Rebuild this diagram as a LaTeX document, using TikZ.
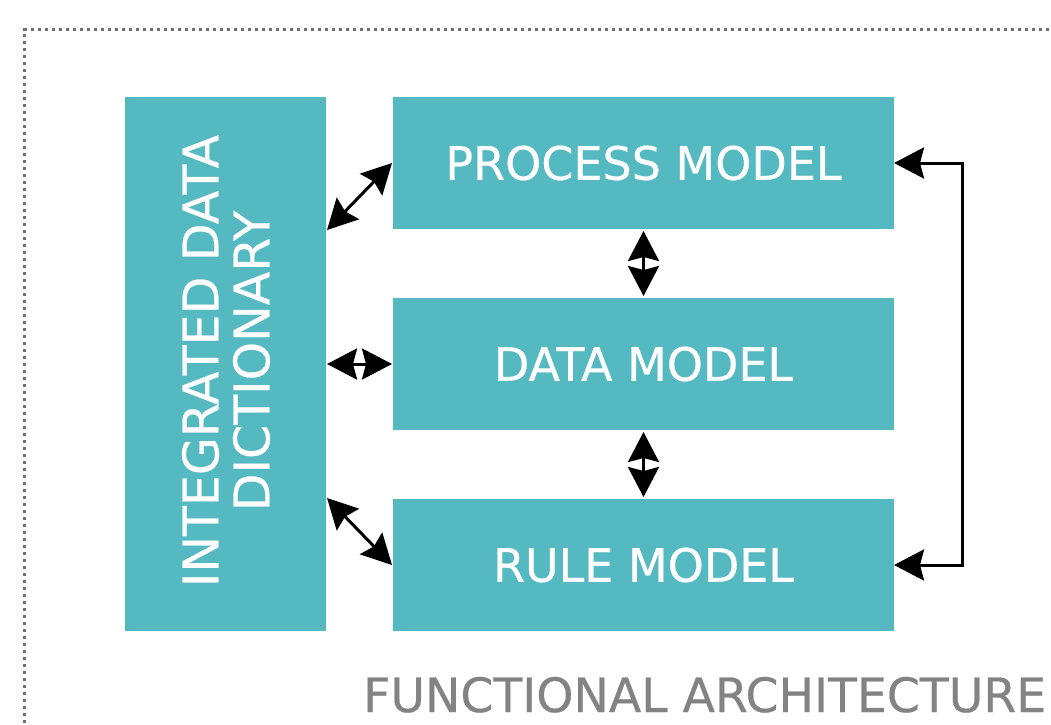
\documentclass[tikz,border=0pt]{standalone}
\usepackage{fontspec}
\setmainfont{DejaVu Sans}
\newfontfamily\heavyfont[FakeBold=0.5]{DejaVu Sans}
\usetikzlibrary{arrows.meta,calc}
\definecolor{teal1}{HTML}{55B9C1}
\definecolor{capgray}{HTML}{838383}
\definecolor{dotgray}{HTML}{707070}
\tikzset{
  box/.style={fill=teal1, draw=none, inner sep=0pt, outer sep=0pt, text=white,
    font=\heavyfont\fontsize{46}{51}\selectfont},
  biarrow/.style={line width=3pt, {Stealth[length=30pt,width=31pt,inset=4pt]}-{Stealth[length=30pt,width=31pt,inset=4pt]}},
  frameline/.style={dotgray, line width=3pt, dash pattern=on 3pt off 4pt}
}
\begin{document}
\begin{tikzpicture}[x=1pt,y=-1pt]
\useasboundingbox (0,0) rectangle (1051,724);
\clip (0,0) rectangle (1051,724);
\coordinate (fbl) at (24.5,730);
\coordinate (ftl) at (24.5,29.5);
\coordinate (ftr) at (1060,29.5);
\draw[frameline] (fbl) -- (ftl) -- (ftr);

\node[box, minimum width=201pt, minimum height=534pt] (idd) at (225.5,364) {};
\node[text=white, rotate=90, align=center, inner sep=0pt, font=\heavyfont\fontsize{49}{51}\selectfont] (iddt) at (226,361) {INTEGRATED DATA\\DICTIONARY};

\node[box, minimum width=501pt, minimum height=132pt] (proc) at (643.5,163) {PROCESS MODEL};
\node[box, minimum width=501pt, minimum height=132pt] (data) at (643.5,364) {DATA MODEL};
\node[box, minimum width=501pt, minimum height=132pt] (rule) at (643.5,565) {RULE MODEL};

\draw[biarrow] ($(idd.east |- proc.south)+(1,1)$) -- ($(proc.west)+(-1,0)$);
\draw[biarrow] ($(idd.east |- data.west)+(1,0)$) -- ($(data.west)+(-1,0)$);
\draw[biarrow] ($(idd.east |- rule.north)+(1,-1)$) -- ($(rule.west)+(-1,0)$);
\draw[biarrow] ($(proc.south)+(0,2)$) -- ($(data.north)+(0,-2)$);
\draw[biarrow] ($(data.south)+(0,2)$) -- ($(rule.north)+(0,-2)$);
\draw[biarrow] (proc.east) -- ++(68,0) |- (rule.east);

\node[anchor=base west, inner sep=0pt, text=capgray, font=\heavyfont\fontsize{47.3}{50}\selectfont] (cap) at (363,712) {FUNCTIONAL ARCHITECTURE};
\end{tikzpicture}
\end{document}
